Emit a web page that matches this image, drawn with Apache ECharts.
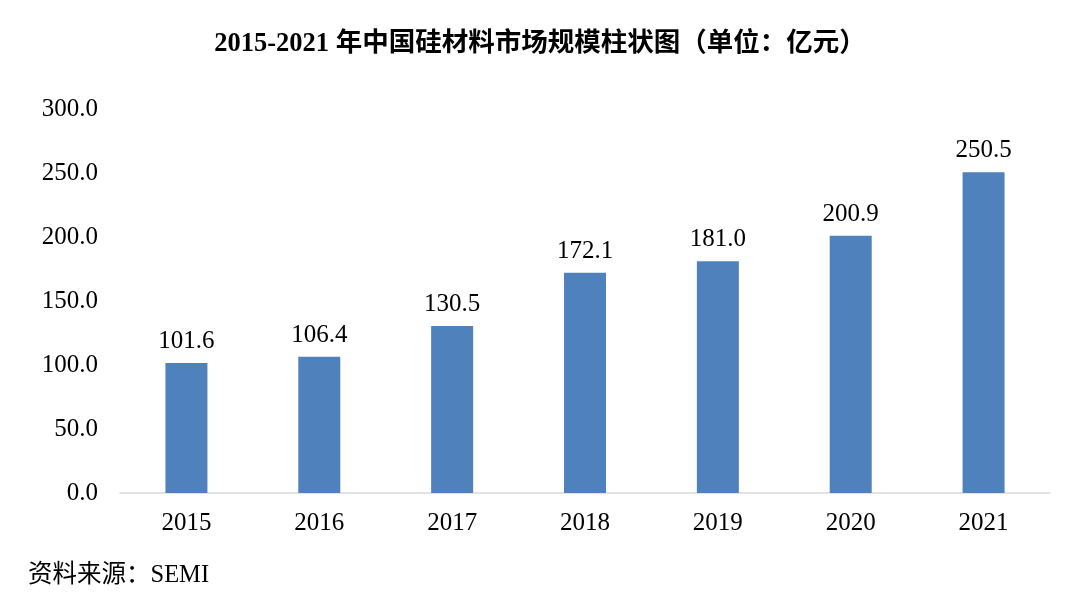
<!DOCTYPE html>
<html>
<head>
<meta charset="utf-8">
<script src="https://cdn.jsdelivr.net/npm/echarts@6/dist/echarts.min.js"></script>
<style>
  html, body { margin: 0; padding: 0; background: #fff; }
  #main { width: 1080px; height: 596px; }
</style>
</head>
<body>
<div id="main"></div>
<script>
var years = ['2015', '2016', '2017', '2018', '2019', '2020', '2021'];
var marketSize = [101.6, 106.4, 130.5, 172.1, 181.0, 200.9, 250.5];
var yTicks = { min: 0, max: 300, interval: 50 };

var serifFont = '"Liberation Serif", "Noto Sans CJK SC", serif';

var myChart = echarts.init(document.getElementById('main'));

var option = {
    backgroundColor: '#fff',
    animation: false,
    title: [
        {
            text: '2015-2021 年中国硅材料市场规模柱状图（单位：亿元）',
            left: 'center',
            top: 26,
            textStyle: {
                fontFamily: serifFont,
                fontSize: 26.5,
                fontWeight: 'bold',
                color: '#000'
            }
        },
        {
            text: '资料来源：SEMI',
            left: 23,
            top: 558,
            textStyle: {
                fontFamily: serifFont,
                fontSize: 24.5,
                fontWeight: 'normal',
                color: '#000'
            }
        }
    ],
    grid: {
        left: 120,
        right: 30,
        top: 109,
        bottom: 103
    },
    xAxis: {
        type: 'category',
        data: years,
        axisLine: { lineStyle: { color: '#d9d9d9', width: 1.5 } },
        axisTick: { show: false },
        axisLabel: {
            margin: 18,
            fontFamily: serifFont,
            fontSize: 25,
            color: '#000'
        }
    },
    yAxis: {
        type: 'value',
        min: yTicks.min,
        max: yTicks.max,
        interval: yTicks.interval,
        axisLine: { show: false },
        axisTick: { show: false },
        splitLine: { show: false },
        axisLabel: {
            margin: 22,
            fontFamily: serifFont,
            fontSize: 25,
            color: '#000',
            formatter: function (v) { return v.toFixed(1); }
        }
    },
    series: [
        {
            name: '市场规模',
            type: 'bar',
            data: marketSize,
            barWidth: 42,
            itemStyle: { color: '#4f81bd' },
            label: {
                show: true,
                position: 'top',
                distance: 9,
                fontFamily: serifFont,
                fontSize: 25,
                color: '#000',
                formatter: function (p) { return p.value.toFixed(1); }
            }
        }
    ]
};

myChart.setOption(option);
</script>
</body>
</html>
